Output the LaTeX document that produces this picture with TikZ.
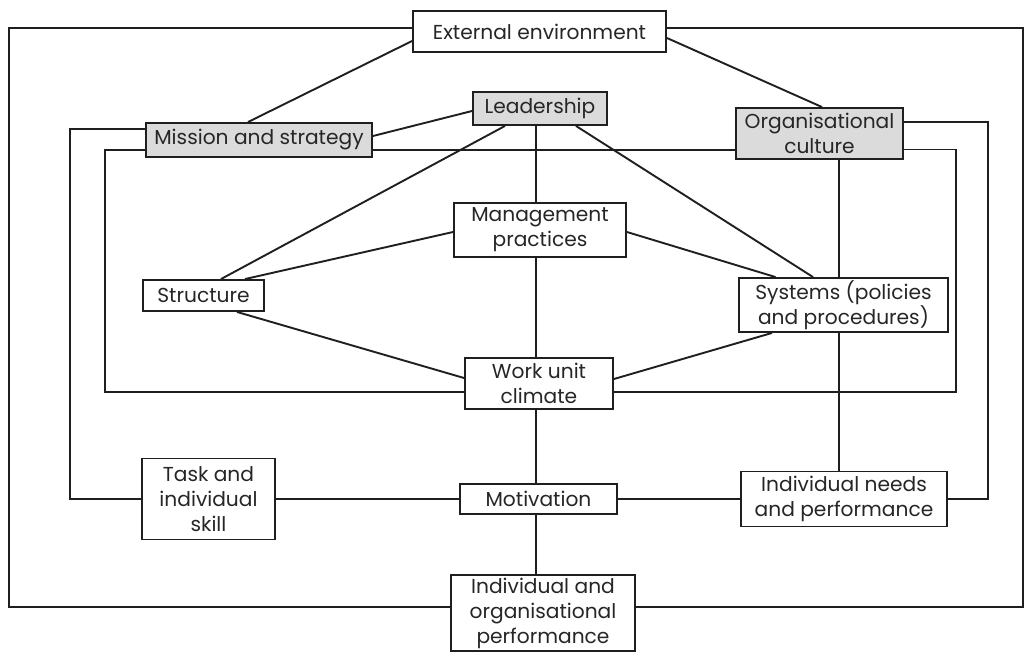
\documentclass[tikz,border=0pt]{standalone}
\usepackage{fontspec}
\setmainfont{Poppins}
\usetikzlibrary{calc}
\tikzset{
  box/.style={draw=black!88, line width=1.9pt, fill=white, align=center,
    inner sep=0pt, font=\fontsize{20.2}{25}\selectfont, text=black!85},
  shaded/.style={box, fill=black!14},
  link/.style={draw=black!88, line width=1.9pt},
}
\begin{document}
\begin{tikzpicture}[x=1pt,y=-1pt]
\useasboundingbox (0,0) rectangle (1034,656);

% boxes (centre, width, height)
\node[box, minimum width=253pt, minimum height=41pt] (ext) at (539.5,31.5) {External environment};
\node[shaded, minimum width=226pt, minimum height=34pt] (mission) at (259,140) {Mission and strategy};
\node[shaded, minimum width=134pt, minimum height=33pt] (lead) at (540,108.5) {Leadership};
\node[shaded, minimum width=167pt, minimum height=51pt] (org) at (819.5,133.5) {Organisational\\culture};
\node[box, minimum width=172pt, minimum height=54pt] (mgmt) at (540,230) {Management\\practices};
\node[box, minimum width=121pt, minimum height=31pt] (struct) at (203.5,295.5) {Structure};
\node[box, minimum width=209pt, minimum height=54pt] (sys) at (843.5,305) {Systems (policies\\and procedures)};
\node[box, minimum width=148pt, minimum height=51pt] (wuc) at (539,383.5) {Work unit\\climate};
\node[box, minimum width=133pt, minimum height=81pt] (task) at (208.5,499) {Task and\\individual\\skill};
\node[box, minimum width=157pt, minimum height=30pt] (motiv) at (538.5,499) {Motivation};
\node[box, minimum width=206pt, minimum height=55pt] (needs) at (844,499) {Individual needs\\and performance};
\node[box, minimum width=184pt, minimum height=76pt] (iop) at (543,613) {Individual and\\organisational\\performance};

% guide positions for the vertical spines and the loops
\coordinate (vx) at (536,0);
\coordinate (ox) at (839,0);
\coordinate (xo) at (9,0);
\coordinate (xe) at (1023,0);
\coordinate (xa) at (70,0);
\coordinate (xb) at (105,0);
\coordinate (xc) at (956,0);
\coordinate (xd) at (988,0);
\coordinate (yb) at (0,392);
\coordinate (yo) at (0,607);

% diagonal links
\draw[link] ($(ext.west)+(0,9.5)$) -- ($(mission.north)+(-11,0)$);
\draw[link] ($(ext.east)+(0,6.5)$) -- ($(org.north)+(2.5,0)$);
\draw[link] ($(mission.east)+(0,-4)$) -- ($(lead.west)+(0,2.5)$);
\draw[link] ($(lead.south)+(-35,0)$) -- ($(struct.north)+(17.5,0)$);
\draw[link] ($(lead.south)+(36,0)$) -- ($(sys.north)+(-30.5,0)$);
\draw[link] ($(struct.north)+(41.5,0)$) -- ($(mgmt.west)+(0,2)$);
\draw[link] ($(struct.south)+(33.5,0)$) -- ($(wuc.west)+(0,-5.5)$);
\draw[link] ($(mgmt.east)+(0,2)$) -- ($(sys.north)+(-68,0)$);
\draw[link] ($(sys.south)+(-71.5,0)$) -- ($(wuc.east)+(0,-4.5)$);

% central spine
\draw[link] (lead.south -| vx) -- (mgmt.north -| vx);
\draw[link] (mgmt.south -| vx) -- (wuc.north -| vx);
\draw[link] (wuc.south -| vx) -- (motiv.north -| vx);
\draw[link] (motiv.south -| vx) -- (iop.north -| vx);

% culture spine
\draw[link] (org.south -| ox) -- (sys.north -| ox);
\draw[link] (sys.south -| ox) -- (needs.north -| ox);

% horizontal links
\coordinate (m150) at ($(mission.east)+(0,10)$);
\draw[link] (m150) -- (m150 -| org.west);
\draw[link] (task.east) -- (motiv.west);
\draw[link] (motiv.east) -- (needs.east -| needs.west);

% loops
\draw[link] ($(mission.west)+(0,-11)$) -| (xa |- task.west) -- (task.west);
\draw[link] ($(mission.west)+(0,10)$) -| (xb |- yb) -- (wuc.west |- yb);
\draw[link] ($(org.east)+(0,-11.5)$) -| (xd |- needs.east) -- (needs.east);
\draw[link] ($(org.east)+(0,16)$) -| (xc |- yb) -- (wuc.east |- yb);

% outer frame
\draw[link] ($(ext.west)+(0,-3.5)$) -| (xo |- yo) -- (iop.west |- yo);
\draw[link] ($(ext.east)+(0,-3.5)$) -| (xe |- yo) -- (iop.east |- yo);
\end{tikzpicture}
\end{document}
